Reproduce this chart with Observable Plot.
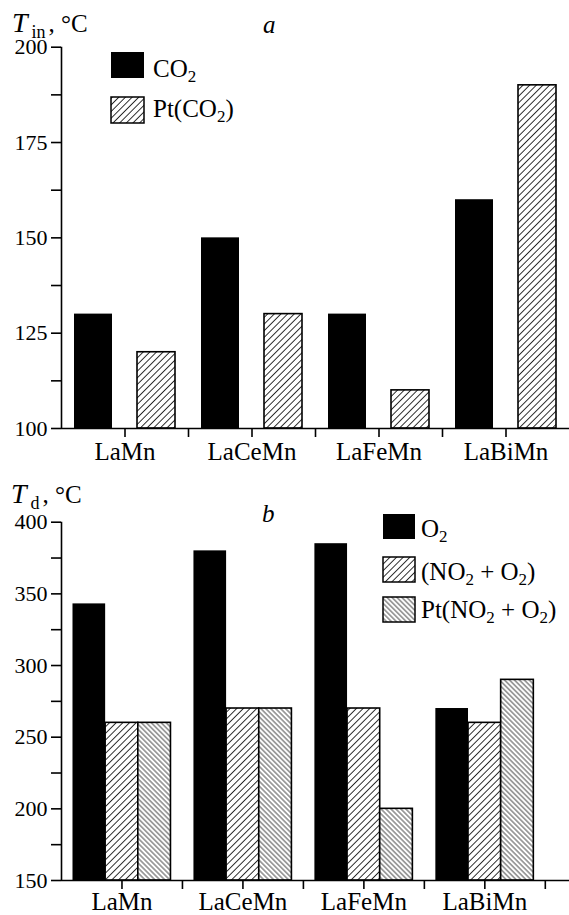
<!DOCTYPE html>
<html><head><meta charset="utf-8">
<script src="https://cdn.jsdelivr.net/npm/d3@7"></script>
<script src="https://cdn.jsdelivr.net/npm/@observablehq/plot@0.6"></script>
<style>
body{margin:0;background:#fff;}
#wrap{position:relative;width:569px;height:915px;overflow:hidden;background:#fff;font-family:'Liberation Serif',serif;}
#wrap svg.panel{position:absolute;left:0;}
#wrap svg text{font-family:'Liberation Serif',serif;}
#overlay{position:absolute;left:0;top:0;pointer-events:none;}
</style></head>
<body>
<svg width="0" height="0" style="position:absolute">
  <defs>
    <pattern id="hatchF" patternUnits="userSpaceOnUse" width="4.7" height="10" patternTransform="rotate(45)">
      <rect width="4.7" height="10" fill="white"/>
      <line x1="2.35" y1="0" x2="2.35" y2="10" stroke="#111" stroke-width="0.9"/>
    </pattern>
    <pattern id="hatchB" patternUnits="userSpaceOnUse" width="3.5" height="10" patternTransform="rotate(-45)">
      <rect width="3.5" height="10" fill="white"/>
      <line x1="1.75" y1="0" x2="1.75" y2="10" stroke="#111" stroke-width="0.8"/>
    </pattern>
  </defs>
</svg>
<div id="wrap"></div>
<script>
// ---------- data ----------
const categories = ["LaMn", "LaCeMn", "LaFeMn", "LaBiMn"];

// panel a
const seriesA = ["CO_2", "Pt(CO_2)"];
const valuesA_CO2 = [130, 150, 130, 160];
const valuesA_PtCO2 = [120, 130, 110, 190];
const ticksA = [100, 125, 150, 175, 200];
const minorTicksA = [112.5, 137.5, 162.5, 187.5];

// panel b
const seriesB = ["O_2", "(NO_2 + O_2)", "Pt(NO_2 + O_2)"];
const valuesB_O2 = [343, 380, 385, 270];
const valuesB_NO2O2 = [260, 270, 270, 260];
const valuesB_PtNO2O2 = [260, 270, 200, 290];
const ticksB = [150, 200, 250, 300, 350, 400];
const minorTicksB = [175, 225, 275, 325, 375];

// ---------- helpers ----------
const FONT = "'Liberation Serif', serif";
const fills = ["black", "url(#hatchF)", "url(#hatchB)"];

function rowsFrom(seriesValues) {
  return categories.flatMap((c, i) => seriesValues.map((vals, s) => ({cat: c, i, s, v: vals[i]})));
}

function makePanel({seriesValues, yDomain, yTicks, yMinor, xMax, bounds, height, marginTop, marginBottom, pad, w, gap, labelPad}) {
  const rows = rowsFrom(seriesValues);
  const x1 = d => d.i + pad + d.s * (w + gap);
  const barMarks = seriesValues.map((_, s) =>
    Plot.rect(rows.filter(d => d.s === s), {
      x1, x2: d => x1(d) + w, y1: yDomain[0], y2: "v",
      fill: fills[s],
      stroke: s === 0 ? null : "black",
      strokeWidth: 1.6
    })
  );
  const centers = categories.map((_, i) => i + 0.5);
  return Plot.plot({
    width: 569, height,
    marginLeft: 61, marginRight: 0, marginTop, marginBottom,
    x: {type: "linear", domain: [0, xMax]},
    y: {domain: yDomain},
    style: {fontFamily: FONT, fontSize: "22px", color: "black", background: "transparent", overflow: "visible"},
    marks: [
      ...barMarks,
      Plot.ruleY([yDomain[0]], {strokeWidth: 1.6}),
      Plot.ruleX([0], {y1: yDomain[0], y2: yDomain[1], strokeWidth: 1.6}),
      Plot.axisY(yTicks, {tickSize: 10, tickPadding: 4, label: null, strokeWidth: 1.6, fontSize: 22}),
      Plot.axisY(yMinor, {tickSize: 10, tickFormat: () => "", label: null, strokeWidth: 1.6}),
      Plot.axisX(centers, {tickSize: 9, tickPadding: labelPad, tickFormat: d => categories[Math.floor(d)], fontSize: 25, label: null, strokeWidth: 1.6}),
      Plot.axisX(bounds, {tickSize: 9, tickFormat: () => "", label: null, strokeWidth: 1.6})
    ]
  });
}

const wrap = document.getElementById("wrap");

const plotA = makePanel({
  seriesValues: [valuesA_CO2, valuesA_PtCO2],
  yDomain: [100, 200], yTicks: ticksA, yMinor: minorTicksA,
  xMax: 4, bounds: [1, 2, 3],
  height: 470, marginTop: 46.7, marginBottom: 42,
  pad: 13 / 127, w: 38 / 127, gap: 25 / 127, labelPad: 5
});
plotA.classList.add("panel");
plotA.style.top = "0px";
wrap.appendChild(plotA);

const plotB = makePanel({
  seriesValues: [valuesB_O2, valuesB_NO2O2, valuesB_PtNO2O2],
  yDomain: [150, 400], yTicks: ticksB, yMinor: minorTicksB,
  xMax: 4.2, bounds: [1, 2, 3, 4],
  height: 445, marginTop: 51.7, marginBottom: 35,
  pad: 0.095, w: 0.27, gap: 0, labelPad: 3
});
plotB.classList.add("panel");
plotB.style.top = "470px";
wrap.appendChild(plotB);

// ---------- titles and legends (overlay) ----------
const ov = d3.select(wrap).append("svg")
  .attr("id", "overlay").attr("width", 569).attr("height", 915)
  .attr("font-size", 25).attr("fill", "black");

function richText(sel, str) {
  // "_x" -> subscript x
  const parts = str.split(/_(\w)/);
  let shift = 0;
  parts.forEach((p, k) => {
    if (!p) return;
    if (k % 2 === 1) {
      sel.append("tspan").attr("font-size", 17).attr("dy", 5 - shift).text(p);
      shift = 5;
    } else {
      sel.append("tspan").attr("dy", -shift).text(p);
      shift = 0;
    }
  });
}

// axis titles: separate text pieces laid out side by side
function axisTitle(x, y, sub) {
  const t1 = ov.append("text").attr("x", x).attr("y", y)
    .attr("font-style", "italic").attr("font-size", 28).text("T");
  const x2 = x + t1.node().getComputedTextLength() + 4;
  const t2 = ov.append("text").attr("x", x2).attr("y", y + 6)
    .attr("font-size", 18).text(sub);
  const x3 = x2 + t2.node().getComputedTextLength() + 3;
  ov.append("text").attr("x", x3).attr("y", y).text(", \u00B0C");
}
axisTitle(12, 32, "in");
axisTitle(11, 503, "d");

ov.append("text").attr("x", 263).attr("y", 33).attr("font-style", "italic").text("a");
ov.append("text").attr("x", 262).attr("y", 522).attr("font-style", "italic").text("b");

function legend(series, x, tops, textX, baselines, sw, sh) {
  series.forEach((name, s) => {
    ov.append("rect").attr("x", x).attr("y", tops[s]).attr("width", sw).attr("height", sh)
      .attr("fill", fills[s]).attr("stroke", "black").attr("stroke-width", s === 0 ? 0 : 1.5);
    const t = ov.append("text").attr("x", textX).attr("y", baselines[s]);
    richText(t, name);
  });
}
legend(seriesA, 111, [52, 97], 153, [77, 117], 33, 26);
legend(seriesB, 383, [514, 557, 597], 421, [537, 580, 618], 32, 25);
</script>
</body></html>
